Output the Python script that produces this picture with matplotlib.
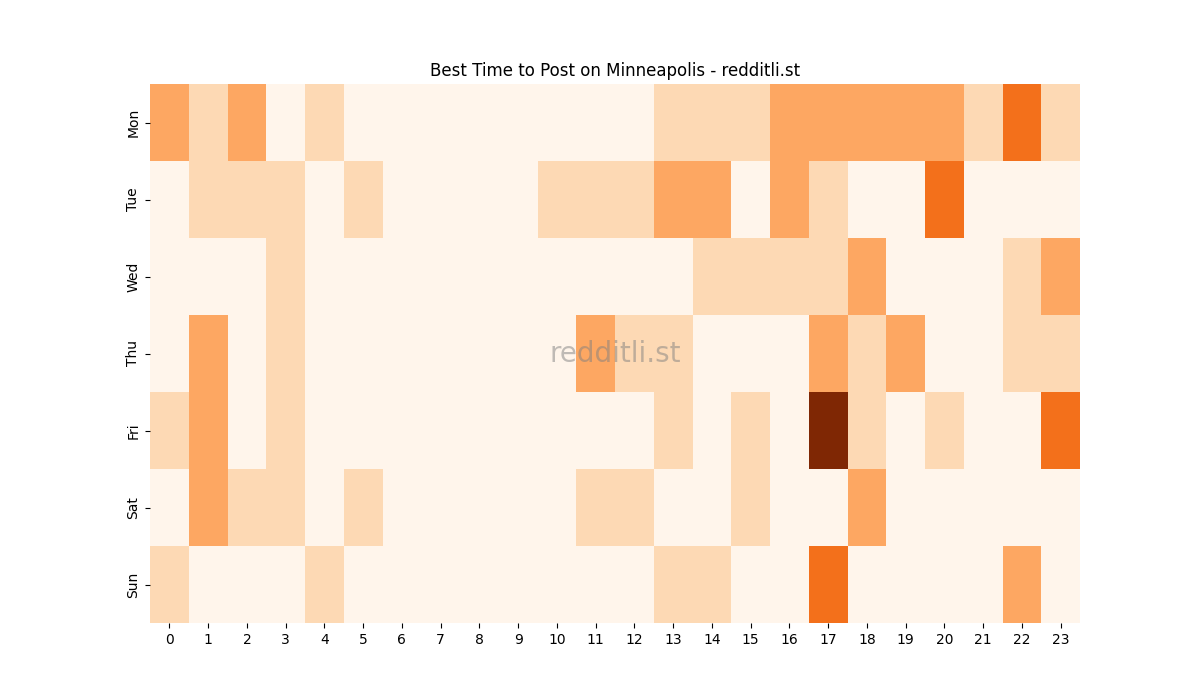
import numpy as np
import matplotlib
matplotlib.use('Agg')
import matplotlib.pyplot as plt
import seaborn as sns

days = ['Mon', 'Tue', 'Wed', 'Thu', 'Fri', 'Sat', 'Sun']
hours = list(range(24))

# post counts per weekday / hour
mon = [2, 1, 2, 0, 1, 0, 0, 0, 0, 0, 0, 0, 0, 1, 1, 1, 2, 2, 2, 2, 2, 1, 3, 1]
tue = [0, 1, 1, 1, 0, 1, 0, 0, 0, 0, 1, 1, 1, 2, 2, 0, 2, 1, 0, 0, 3, 0, 0, 0]
wed = [0, 0, 0, 1, 0, 0, 0, 0, 0, 0, 0, 0, 0, 0, 1, 1, 1, 1, 2, 0, 0, 0, 1, 2]
thu = [0, 2, 0, 1, 0, 0, 0, 0, 0, 0, 0, 2, 1, 1, 0, 0, 0, 2, 1, 2, 0, 0, 1, 1]
fri = [1, 2, 0, 1, 0, 0, 0, 0, 0, 0, 0, 0, 0, 1, 0, 1, 0, 5, 1, 0, 1, 0, 0, 3]
sat = [0, 2, 1, 1, 0, 1, 0, 0, 0, 0, 0, 1, 1, 0, 0, 1, 0, 0, 2, 0, 0, 0, 0, 0]
sun = [1, 0, 0, 0, 1, 0, 0, 0, 0, 0, 0, 0, 0, 1, 1, 0, 0, 3, 0, 0, 0, 0, 2, 0]

data = np.array([mon, tue, wed, thu, fri, sat, sun])

fig, ax = plt.subplots(figsize=(12, 7), dpi=100)
sns.heatmap(data, cmap='Oranges', vmin=0, vmax=5, cbar=False,
            xticklabels=hours, yticklabels=days, ax=ax)
ax.set_title('Best Time to Post on Minneapolis - redditli.st')
ax.text(0.5, 0.5, 'redditli.st', transform=ax.transAxes, fontsize=20,
        color='gray', alpha=0.5, ha='center', va='center')
fig.savefig('out.png')
